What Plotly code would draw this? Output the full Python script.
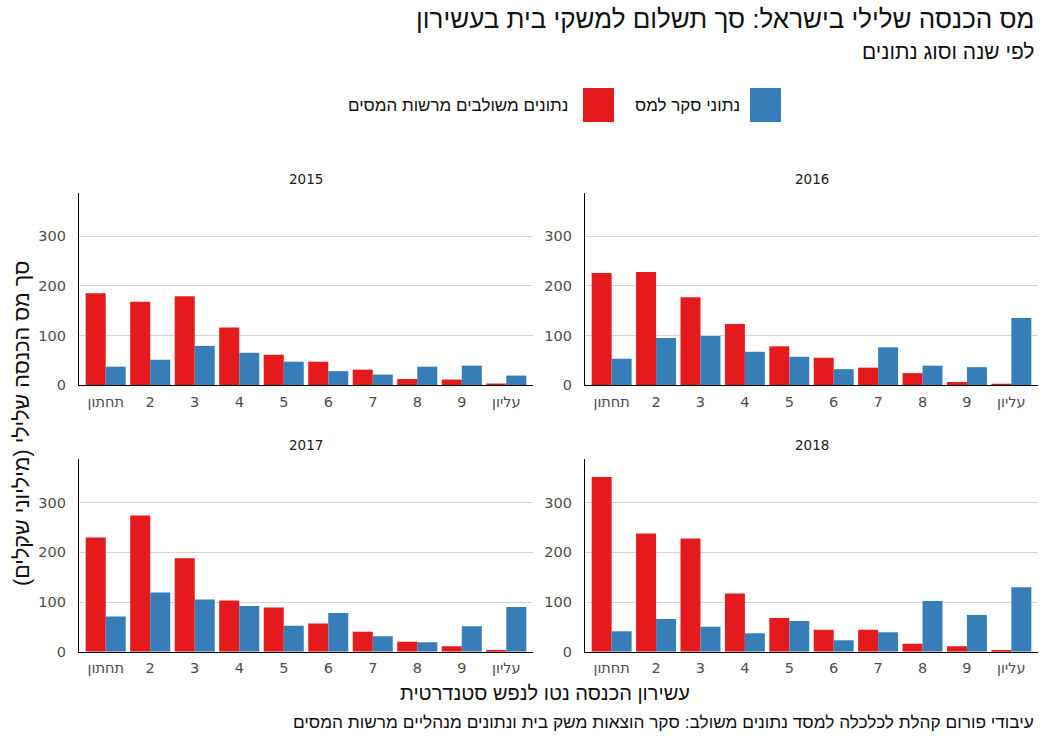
import plotly.graph_objects as go

W, H = 1042, 738

deciles = ["תחתון", "2", "3", "4", "5", "6", "7", "8", "9", "עליון"]
years = ["2015", "2016", "2017", "2018"]

admin_2015 = [185, 168, 179, 116, 61, 47, 31, 12, 11, 3]
survey_2015 = [37, 51, 79, 65, 47, 28, 21, 37, 39, 19]
admin_2016 = [226, 228, 177, 123, 78, 55, 35, 24, 6, 1]
survey_2016 = [53, 95, 99, 67, 57, 32, 76, 39, 36, 135]
admin_2017 = [230, 274, 188, 103, 89, 57, 40, 20, 11, 2]
survey_2017 = [71, 119, 105, 92, 52, 78, 31, 19, 51, 90]
admin_2018 = [352, 238, 228, 117, 68, 44, 44, 16, 11, 3]
survey_2018 = [41, 66, 50, 37, 62, 23, 39, 102, 74, 130]

admin = [admin_2015, admin_2016, admin_2017, admin_2018]
survey = [survey_2015, survey_2016, survey_2017, survey_2018]

name_admin = "נתונים משולבים מרשות המסים"
name_survey = "נתוני סקר למס"
title = "מס הכנסה שלילי בישראל: סך תשלום למשקי בית בעשירון"
subtitle = "לפי שנה וסוג נתונים"
x_title = "עשירון הכנסה נטו לנפש סטנדרטית"
y_title = "סך מס הכנסה שלילי (מיליוני שקלים)"
caption = "עיבודי פורום קהלת לכלכלה למסד נתונים משולב: סקר הוצאות משק בית ונתונים מנהליים מרשות המסים"

RED = "#E41A1C"
BLUE = "#377EB8"
HEB = "Liberation Sans, DejaVu Sans, sans-serif"
NUM = "DejaVu Sans, Liberation Sans, sans-serif"
RLM = "\u200f"


def px_x(v):
    return v / W


def px_y(v):
    return 1 - v / H


# panel geometry in pixels (left, right, top, bottom)
panels = [
    (79, 533, 192.7, 385),
    (585, 1038, 192.7, 385),
    (79, 533, 459, 651.7),
    (585, 1038, 459, 651.7),
]

fig = go.Figure()
layout = dict()
annotations = []

for i, (yr, (l, r, t, b)) in enumerate(zip(years, panels)):
    n = "" if i == 0 else str(i + 1)
    xa = "x" + n
    ya = "y" + n
    fig.add_trace(go.Bar(x=deciles, y=admin[i], name=name_admin, marker=dict(color=RED, line=dict(width=0)),
                         xaxis=xa, yaxis=ya, showlegend=False, offsetgroup="a"))
    fig.add_trace(go.Bar(x=deciles, y=survey[i], name=name_survey, marker=dict(color=BLUE, line=dict(width=0)),
                         xaxis=xa, yaxis=ya, showlegend=False, offsetgroup="b"))
    layout["xaxis" + n] = dict(
        domain=[px_x(l), px_x(r)], anchor=ya, type="category",
        categoryorder="array", categoryarray=deciles, range=[-0.6, 9.6],
        showline=True, linecolor="black", linewidth=1.3, showgrid=False,
        ticks="", tickfont=dict(size=14.5, color="#4d4d4d", family=NUM),
        ticklabelstandoff=3, automargin=False, fixedrange=True,
    )
    layout["yaxis" + n] = dict(
        domain=[px_y(b), px_y(t)], anchor=xa, range=[0, 388],
        tickvals=[0, 100, 200, 300], showgrid=True, gridcolor="#d4d4d4", gridwidth=1,
        showline=True, linecolor="black", linewidth=1.3, zeroline=False,
        ticks="", tickfont=dict(size=14.5, color="#4d4d4d", family=NUM),
        ticklabelstandoff=9, automargin=False, fixedrange=True,
    )
    annotations.append(dict(text=yr, x=px_x((l + r) / 2), y=px_y(t - 14), xref="paper", yref="paper",
                            showarrow=False, xanchor="center", yanchor="middle",
                            font=dict(size=13.5, color="#1a1a1a", family=NUM)))

annotations += [
    dict(text=title, x=px_x(1036), y=px_y(19), xref="paper", yref="paper", showarrow=False,
         xanchor="right", yanchor="middle", font=dict(size=26, color="#111111", family=HEB)),
    dict(text=subtitle, x=px_x(1036), y=px_y(52), xref="paper", yref="paper", showarrow=False,
         xanchor="right", yanchor="middle", font=dict(size=21, color="#111111", family=HEB)),
    dict(text=name_survey, x=px_x(742), y=px_y(105), xref="paper", yref="paper", showarrow=False,
         xanchor="right", yanchor="middle", font=dict(size=17, color="#111111", family=HEB)),
    dict(text=name_admin, x=px_x(571), y=px_y(105), xref="paper", yref="paper", showarrow=False,
         xanchor="right", yanchor="middle", font=dict(size=17, color="#111111", family=HEB)),
    dict(text=RLM + x_title + RLM, x=px_x(545), y=px_y(693), xref="paper", yref="paper", showarrow=False,
         xanchor="center", yanchor="middle", font=dict(size=20, color="#111111", family=HEB)),
    dict(text=RLM + y_title + RLM, x=px_x(22), y=px_y(424), xref="paper", yref="paper", showarrow=False,
         textangle=-90, xanchor="center", yanchor="middle", font=dict(size=21.5, color="#111111", family=HEB)),
    dict(text=caption, x=px_x(1036), y=px_y(722), xref="paper", yref="paper", showarrow=False,
         xanchor="right", yanchor="middle", font=dict(size=17.3, color="#111111", family=HEB)),
]

shapes = [
    dict(type="rect", xref="paper", yref="paper", x0=px_x(750), x1=px_x(781), y0=px_y(122), y1=px_y(88),
         fillcolor=BLUE, line=dict(width=0)),
    dict(type="rect", xref="paper", yref="paper", x0=px_x(583), x1=px_x(614), y0=px_y(122), y1=px_y(88),
         fillcolor=RED, line=dict(width=0)),
]

fig.update_layout(
    width=W, height=H,
    margin=dict(l=0, r=0, t=0, b=0, autoexpand=False),
    paper_bgcolor="white", plot_bgcolor="white",
    barmode="group", bargap=0.1, bargroupgap=0,
    showlegend=False,
    annotations=annotations, shapes=shapes,
    **layout,
)

fig.write_html("out.html", config={"displayModeBar": False},
               post_script="document.body.style.margin='0';document.body.style.overflow='hidden';")
